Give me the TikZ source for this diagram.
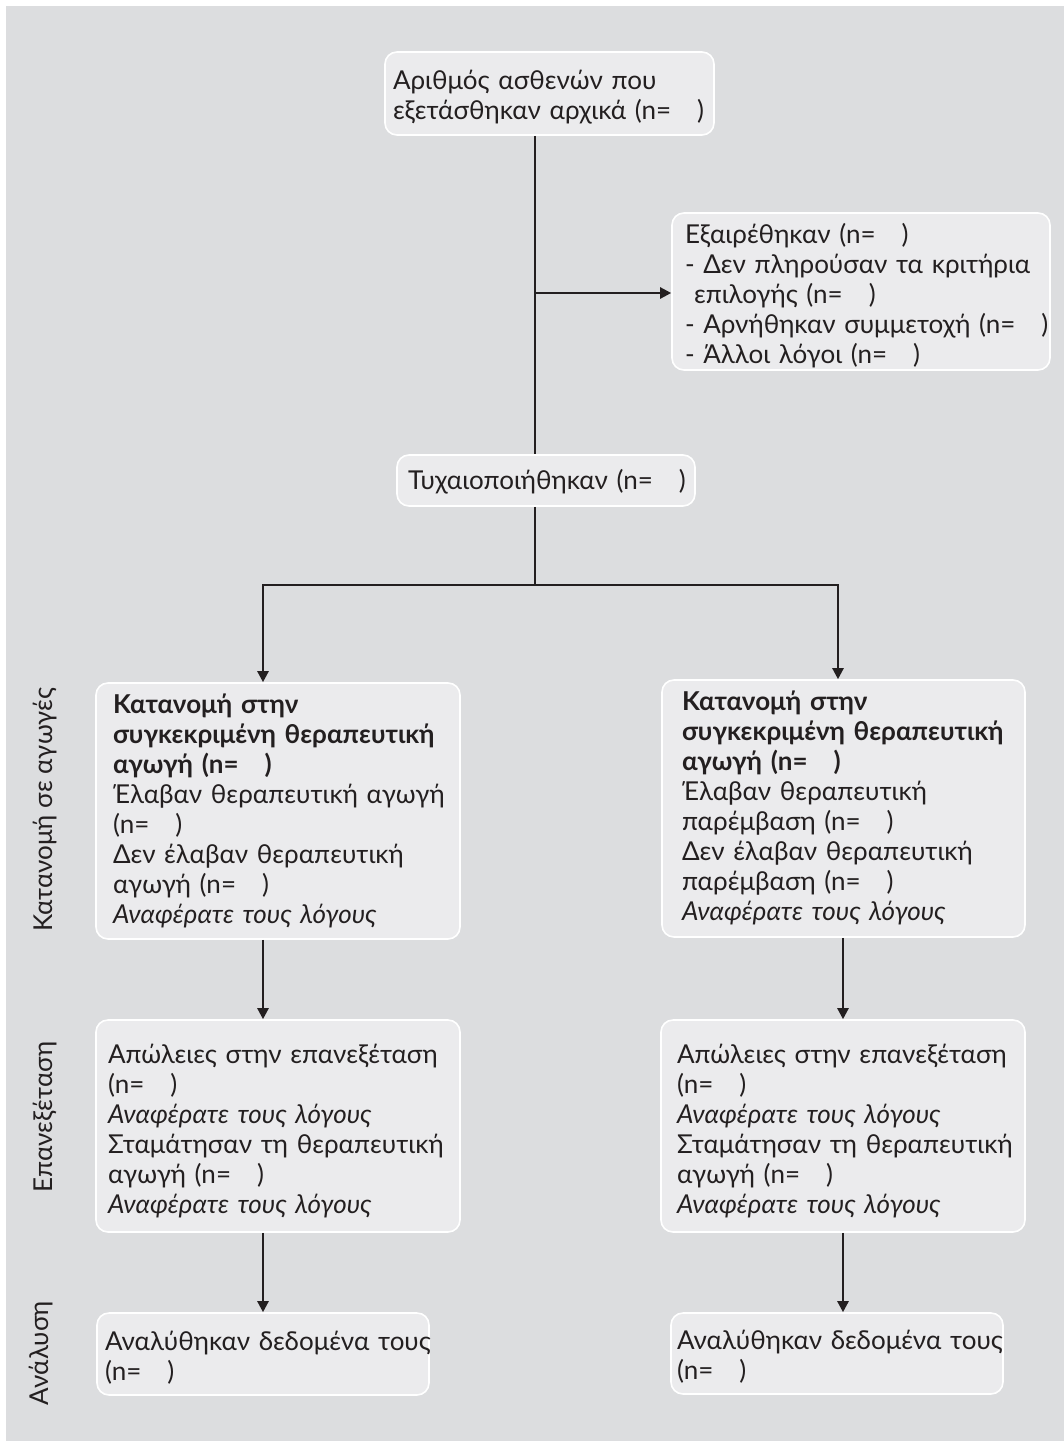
\documentclass[tikz,border=0pt]{standalone}
\usepackage{fontspec}
\setmainfont{Lato}
\usetikzlibrary{arrows.meta}
\definecolor{pagegray}{HTML}{DCDDDF}
\definecolor{boxgray}{HTML}{EBEBED}
\definecolor{ink}{HTML}{231F20}
% unbreakable left-aligned lines, lowered a little
\newcommand{\boxlines}[2][-2.5pt]{\raisebox{#1}[\height][\depth]{\begin{tabular}{@{}l@{}}#2\end{tabular}}}

\begin{document}
\begin{tikzpicture}[x=0.5pt,y=-0.5pt,
    box/.style={draw=white, line width=0.8pt, fill=boxgray, rounded corners=6pt,
      align=left, text=ink, inner xsep=6pt, inner ysep=0pt,
      font=\fontsize{13}{15}\selectfont},
    link/.style={draw=ink, line width=1.2pt},
    arr/.style={link, -{Triangle[length=5.5pt,width=5.5pt]}},
    side/.style={rotate=90, text=ink, font=\fontsize{13}{15}\selectfont}]
  \useasboundingbox (0,0) rectangle (1064,1441);
  \fill[white] (0,0) rectangle (1064,1441);
  \fill[pagegray] (6,6) rectangle (1064,1441);

  % boxes
  \node[box, inner xsep=4pt, minimum width=164.5pt, minimum height=41.5pt, text width=156.5pt] (screen) at (549.5,93.5)
    {\boxlines{Αριθμός ασθενών που\\ εξετάσθηκαν αρχικά (n=~~ )}};
  \node[box, inner xsep=6.5pt, minimum width=189pt, minimum height=78.5pt, text width=176pt] (excl) at (861,291.5)
    {\boxlines[-3pt]{Εξαιρέθηκαν (n=~~ )\\ - Δεν πληρούσαν τα κριτήρια\\ \hspace*{4.5pt}επιλογής (n=~~ )\\
     - Αρνήθηκαν συμμετοχή (n=~~ )\\ - Άλλοι λόγοι (n=~~ )}};
  \node[box, inner xsep=5.5pt, minimum width=149pt, minimum height=25.5pt, text width=138pt] (rand) at (546,480.5)
    {\boxlines[-1.5pt]{Τυχαιοποιήθηκαν (n=~~ )}};
  \node[box, inner xsep=8.5pt, minimum width=182pt, minimum height=128pt, text width=165pt] (allocL) at (278,811)
    {\boxlines[-0.5pt]{\textbf{Κατανομή στην}\\ \textbf{συγκεκριμένη θεραπευτική}\\ \textbf{αγωγή (n=~~ )}\\
     Έλαβαν θεραπευτική αγωγή\\ (n=~~ )\\ Δεν έλαβαν θεραπευτική\\ αγωγή (n=~~ )\\
     \textit{Αναφέρατε τους λόγους}}};
  \node[box, inner xsep=10pt, minimum width=181.5pt, minimum height=128.5pt, text width=161.5pt] (allocR) at (843.5,808.5)
    {\boxlines[-0.5pt]{\textbf{Κατανομή στην}\\ \textbf{συγκεκριμένη θεραπευτική}\\ \textbf{αγωγή (n=~~ )}\\
     Έλαβαν θεραπευτική\\ παρέμβαση (n=~~ )\\ Δεν έλαβαν θεραπευτική\\ παρέμβαση (n=~~ )\\
     \textit{Αναφέρατε τους λόγους}}};
  \node[box, minimum width=182pt, minimum height=106pt, text width=170pt] (followL) at (278,1126)
    {\boxlines[-3pt]{Απώλειες στην επανεξέταση\\ (n=~~ )\\ \textit{Αναφέρατε τους λόγους}\\
     Σταμάτησαν τη θεραπευτική\\ αγωγή (n=~~ )\\ \textit{Αναφέρατε τους λόγους}}};
  \node[box, inner xsep=8pt, minimum width=182pt, minimum height=106pt, text width=166pt] (followR) at (843,1126)
    {\boxlines[-3pt]{Απώλειες στην επανεξέταση\\ (n=~~ )\\ \textit{Αναφέρατε τους λόγους}\\
     Σταμάτησαν τη θεραπευτική\\ αγωγή (n=~~ )\\ \textit{Αναφέρατε τους λόγους}}};
  \node[box, inner xsep=4pt, minimum width=166pt, minimum height=41pt, text width=158pt] (analL) at (263,1354)
    {\boxlines{Αναλύθηκαν δεδομένα τους\\ (n=~~ )}};
  \node[box, inner xsep=3pt, minimum width=166pt, minimum height=40.5pt, text width=160pt] (analR) at (837,1353.5)
    {\boxlines{Αναλύθηκαν δεδομένα τους\\ (n=~~ )}};

  % stage labels
  \node[side] (lblAlloc) at (45,810) {Κατανομή σε αγωγές};
  \node[side] (lblFollow) at (45,1117) {Επανεξέταση};
  \node[side] (lblAnal) at (41,1353) {Ανάλυση};

  % connectors
  \coordinate (branch) at (535,293);
  \coordinate (split) at (535,585);
  \coordinate (colL) at (263,0);
  \coordinate (colR) at (838,0);
  \draw[link] (screen.south -| split) -- (rand.north -| split);
  \draw[arr] (branch) -- (excl.west |- branch);
  \draw[link] (rand.south -| split) -- (split);
  \draw[arr] (split) -| (colL |- allocL.north);
  \draw[arr] (split) -| (colR |- allocR.north);
  \draw[arr] (allocL.south -| colL) -- (followL.north -| colL);
  \draw[arr] (allocR.south -| followR) -- (followR.north);
  \draw[arr] (followL.south -| colL) -- (analL.north -| colL);
  \draw[arr] (followR.south) -- (followR.south |- analR.north);
\end{tikzpicture}
\end{document}
